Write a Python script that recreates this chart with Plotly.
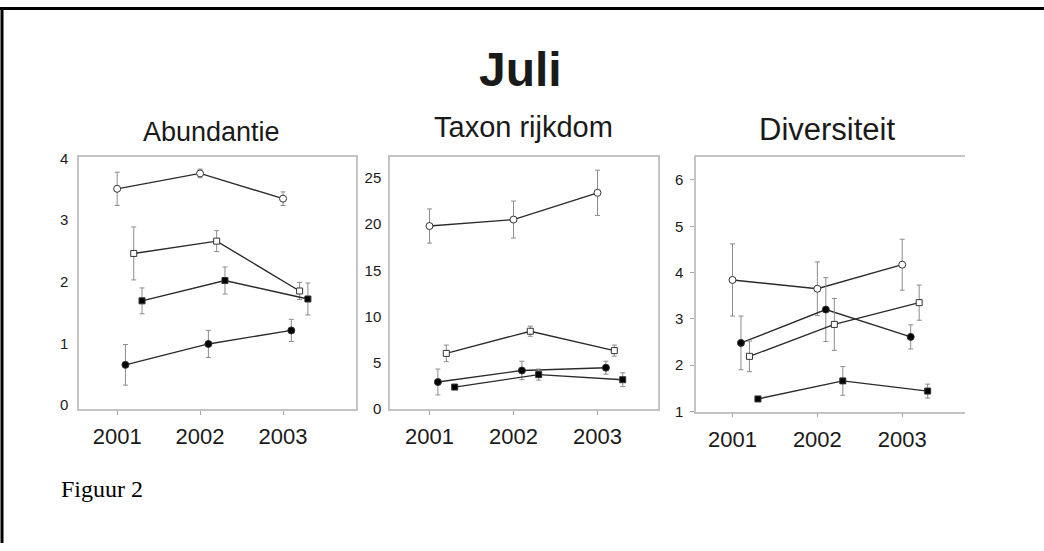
import plotly.graph_objects as go

W, H = 1044, 551

# ---------------- data ----------------
years = [2001, 2002, 2003]
year_labels = ["2001", "2002", "2003"]

panel_titles = ["Abundantie", "Taxon rijkdom", "Diversiteit"]
main_title = "Juli"
caption = "Figuur 2"

# Abundantie
abund_open_circle = [3.51, 3.76, 3.35]
abund_open_circle_err = [0.27, 0.07, 0.11]
abund_filled_circle = [0.65, 0.99, 1.21]
abund_filled_circle_err = [0.33, 0.22, 0.18]
abund_open_square = [2.46, 2.66, 1.85]
abund_open_square_err = [0.43, 0.17, 0.14]
abund_filled_square = [1.69, 2.02, 1.72]
abund_filled_square_err = [0.21, 0.22, 0.26]

# Taxon rijkdom
taxon_open_circle = [19.8, 20.5, 23.4]
taxon_open_circle_err = [1.85, 2.0, 2.45]
taxon_filled_circle = [2.9, 4.15, 4.45]
taxon_filled_circle_err = [1.4, 1.0, 0.7]
taxon_open_square = [6.0, 8.4, 6.3]
taxon_open_square_err = [0.9, 0.55, 0.6]
taxon_filled_square = [2.35, 3.7, 3.15]
taxon_filled_square_err = [0.1, 0.6, 0.75]

# Diversiteit
div_open_circle = [3.84, 3.65, 4.17]
div_open_circle_err = [0.78, 0.58, 0.55]
div_filled_circle = [2.48, 3.2, 2.61]
div_filled_circle_err = [0.58, 0.69, 0.26]
div_open_square = [2.19, 2.88, 3.35]
div_open_square_err = [0.33, 0.56, 0.38]
div_filled_square = [1.27, 1.66, 1.44]
div_filled_square_err = [0.05, 0.31, 0.15]

abund_ticks = [0, 1, 2, 3, 4]
taxon_ticks = [0, 5, 10, 15, 20, 25]
div_ticks = [1, 2, 3, 4, 5, 6]

# ---------------- styles ----------------
LINE = "#2b2b2b"
ERR = "#8c8c8c"
FRAME = "#c4c4c4"
TXT = "#1a1a1a"
SANS = "Liberation Sans, Arial, sans-serif"

styles = {
    "open_circle": dict(symbol="circle", color="white", size=7, dodge=0.0),
    "filled_circle": dict(symbol="circle", color="black", size=7, dodge=0.1),
    "open_square": dict(symbol="square", color="white", size=6, dodge=0.2),
    "filled_square": dict(symbol="square", color="black", size=6, dodge=0.3),
}

panels = [
    ("x", "y", [
        ("open_circle", abund_open_circle, abund_open_circle_err),
        ("open_square", abund_open_square, abund_open_square_err),
        ("filled_square", abund_filled_square, abund_filled_square_err),
        ("filled_circle", abund_filled_circle, abund_filled_circle_err),
    ]),
    ("x2", "y2", [
        ("open_circle", taxon_open_circle, taxon_open_circle_err),
        ("open_square", taxon_open_square, taxon_open_square_err),
        ("filled_circle", taxon_filled_circle, taxon_filled_circle_err),
        ("filled_square", taxon_filled_square, taxon_filled_square_err),
    ]),
    ("x3", "y3", [
        ("open_circle", div_open_circle, div_open_circle_err),
        ("filled_circle", div_filled_circle, div_filled_circle_err),
        ("open_square", div_open_square, div_open_square_err),
        ("filled_square", div_filled_square, div_filled_square_err),
    ]),
]

fig = go.Figure()
for xa, ya, series in panels:
    for key, vals, errs in series:
        st = styles[key]
        fig.add_trace(go.Scatter(
            x=[yr + st["dodge"] for yr in years], y=vals,
            xaxis=xa, yaxis=ya, mode="lines+markers",
            line=dict(color=LINE, width=1.4),
            marker=dict(symbol=st["symbol"], size=st["size"], color=st["color"],
                        line=dict(color="#333333", width=1)),
            error_y=dict(type="data", array=errs, visible=True,
                         color=ERR, thickness=1, width=2.5),
            showlegend=False, hoverinfo="skip",
        ))


def px(v):
    return v / W


def py(v):
    return 1 - v / H


def xaxis(dom, rng, mirror=True):
    return dict(domain=[px(dom[0]), px(dom[1])], range=rng, tickvals=years,
                ticktext=year_labels, ticks="outside", ticklen=4, tickcolor="#a8a8a8",
                tickwidth=1, showline=True, mirror=mirror, linecolor=FRAME, linewidth=1.5,
                showgrid=False, zeroline=False, ticklabelstandoff=3,
                tickfont=dict(family=SANS, size=22, color=TXT), fixedrange=True)


def yaxis(dom, rng, tv, ticks="", mirror=True, standoff=6):
    return dict(domain=[py(dom[1]), py(dom[0])], range=rng, tickvals=tv,
                ticks=ticks, ticklen=4, tickcolor="#a8a8a8", showline=True,
                mirror=mirror, linecolor=FRAME, linewidth=1.5, showgrid=False,
                zeroline=False, ticklabelstandoff=standoff,
                tickfont=dict(family=SANS, size=15, color=TXT), fixedrange=True)


fig.update_layout(
    width=W, height=H, margin=dict(l=0, r=0, t=0, b=0),
    paper_bgcolor="white", plot_bgcolor="white",
    xaxis=dict(xaxis((79, 356), [2000.54, 2003.88]), anchor="y"),
    yaxis=dict(yaxis((154, 413), [-0.063, 4.03], abund_ticks), anchor="x"),
    xaxis2=dict(xaxis((390, 658), [2000.53, 2003.72]), anchor="y2"),
    yaxis2=dict(yaxis((154, 413), [0, 27.3], taxon_ticks, standoff=4), anchor="x2"),
    xaxis3=dict(xaxis((696, 965), [2000.57, 2003.74]), anchor="y3"),
    yaxis3=dict(yaxis((154, 416), [0.995, 6.5], div_ticks, ticks="outside",
                      mirror=False, standoff=4), anchor="x3"),
)

annotations = [
    dict(text="<b>" + main_title + "</b>", x=px(520), y=py(64),
         font=dict(family=SANS, size=48, color=TXT)),
    dict(text=panel_titles[0], x=px(211), y=py(128),
         font=dict(family=SANS, size=27, color=TXT)),
    dict(text=panel_titles[1], x=px(523), y=py(123),
         font=dict(family=SANS, size=29, color=TXT)),
    dict(text=panel_titles[2], x=px(827), y=py(126),
         font=dict(family=SANS, size=31, color=TXT)),
]
for a in annotations:
    a.update(xref="paper", yref="paper", xanchor="center", yanchor="middle",
             showarrow=False)
annotations.append(dict(text=caption, x=px(59), y=py(495), xref="paper", yref="paper",
                        xanchor="left", yanchor="middle", showarrow=False,
                        font=dict(family="Liberation Serif, Times New Roman, serif",
                                  size=24, color="black")))
fig.update_layout(annotations=annotations)

fig.add_shape(type="line", xref="paper", yref="paper", x0=0, x1=1,
              y0=py(1.5), y1=py(1.5), line=dict(color="black", width=3))
fig.add_shape(type="line", xref="paper", yref="paper", x0=px(2), x1=px(2),
              y0=1, y1=0, line=dict(color="black", width=3))

fig.write_html("out.html", config={"displayModeBar": False},
               post_script="document.body.style.margin='0';document.body.style.overflow='hidden';")
